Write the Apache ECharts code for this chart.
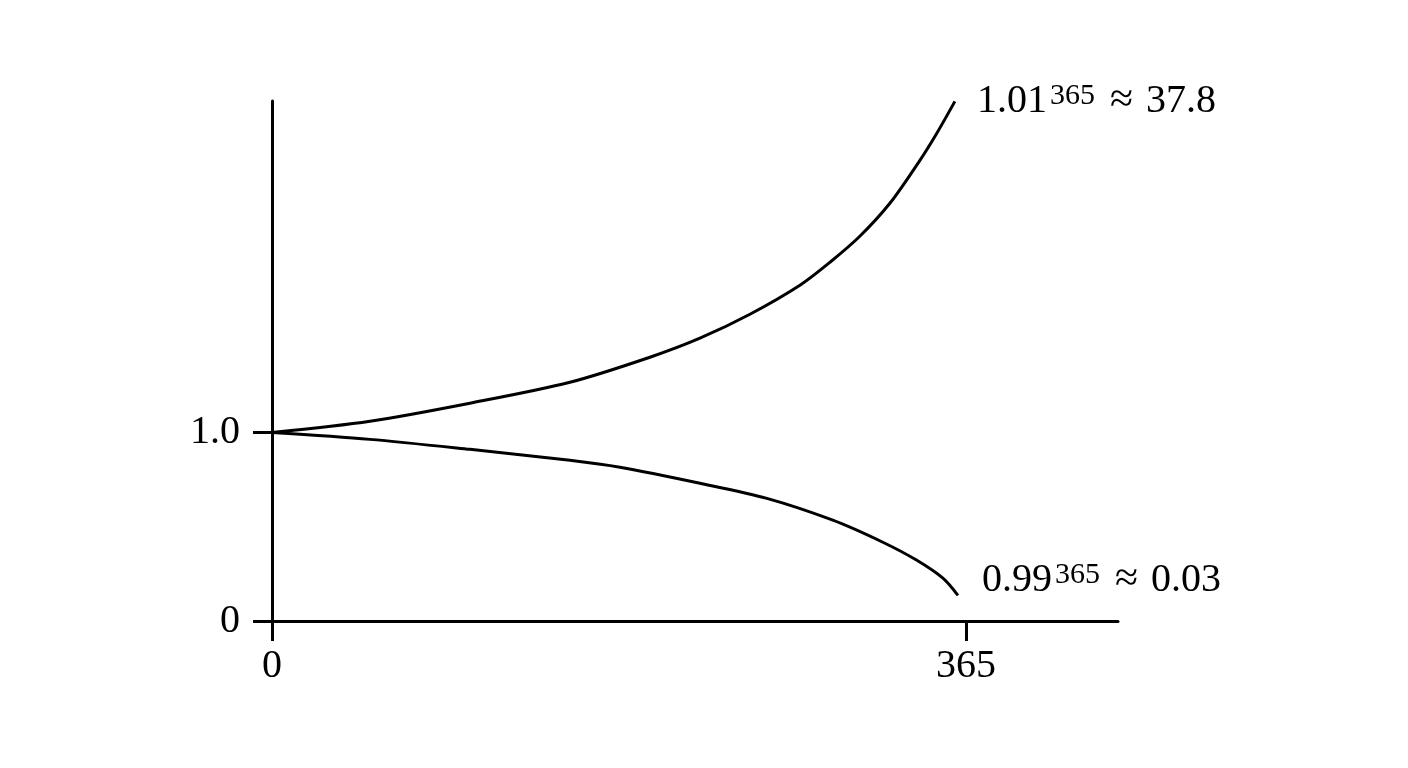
<!DOCTYPE html>
<html>
<head>
<meta charset="utf-8">
<style>html,body{margin:0;padding:0;background:#fff}#c{width:1408px;height:768px}</style>
<script src="https://cdn.jsdelivr.net/npm/echarts@6/dist/echarts.min.js"></script>
</head>
<body>
<div id="c"></div>
<script>
var upDays   = [0, 51.5, 104.1, 156.7, 198.8, 225.1, 251.4, 277.7, 293.5, 309.2, 325.0, 340.8, 349.7, 359.2];
var upVals   = [1.0, 1.060, 1.156, 1.267, 1.400, 1.501, 1.628, 1.782, 1.904, 2.042, 2.217, 2.445, 2.589, 2.758];
var downDays = [0, 51.5, 104.1, 156.7, 183.0, 225.1, 260.3, 295.0, 321.3, 339.2, 352.9, 360.8];
var downVals = [1.0, 0.964, 0.911, 0.853, 0.816, 0.731, 0.651, 0.535, 0.418, 0.322, 0.227, 0.136];
var xTicks = [0, 365];
var yTicks = [0, 1];
var yTickLabels = {0: '0', 1: '1.0'};
var upLabel = ['1.01', '365', '\u2248', '37.8'];
var downLabel = ['0.99', '365', '\u2248', '0.03'];

function pairs(xs, ys) { return xs.map(function (x, i) { return [x, ys[i]]; }); }

var FONT = '"Liberation Serif", "DejaVu Serif", serif';
var INK = '#000';
var rich = {
  a: { fontFamily: FONT, fontSize: 40, lineHeight: 40, color: INK },
  s: { fontFamily: FONT, fontSize: 30, lineHeight: 30, color: INK, verticalAlign: 'top', padding: [0, 0, 0, 3] },
  e: { fontFamily: FONT, fontSize: 42, lineHeight: 40, color: INK, padding: [0, 13, 0, 15] }
};
function fmt(p) { return '{a|' + p[0] + '}{s|' + p[1] + '}{e|' + p[2] + '}{a|' + p[3] + '}'; }

var chart = echarts.init(document.getElementById('c'), null, { renderer: 'canvas' });
chart.setOption({
  animation: false,
  backgroundColor: '#fff',
  grid: { left: 272, right: 290, top: 101, bottom: 147 },
  xAxis: {
    type: 'value', min: 0, max: 445,
    axisLine: { show: true, onZero: false, lineStyle: { color: INK, width: 3 } },
    axisTick: { show: true, length: 20, customValues: xTicks, lineStyle: { color: INK, width: 3 } },
    axisLabel: { customValues: xTicks, margin: 25, color: INK, fontFamily: FONT, fontSize: 40 },
    splitLine: { show: false }
  },
  yAxis: {
    type: 'value', min: 0, max: 2.76,
    axisLine: { show: true, onZero: false, lineStyle: { color: INK, width: 3 } },
    axisTick: { show: true, length: 19, customValues: yTicks, lineStyle: { color: INK, width: 3 } },
    axisLabel: { customValues: yTicks, margin: 32, color: INK, fontFamily: FONT, fontSize: 40,
      formatter: function (v) { return yTickLabels[v] !== undefined ? yTickLabels[v] : ''; } },
    splitLine: { show: false }
  },
  series: [
    {
      type: 'line', data: pairs(upDays, upVals), smooth: 0.3,
      showSymbol: false, symbol: 'none',
      lineStyle: { color: INK, width: 3 },
      endLabel: { show: true, distance: 22, offset: [0, 0], formatter: fmt(upLabel), rich: rich }
    },
    {
      type: 'line', data: pairs(downDays, downVals), smooth: 0.3,
      showSymbol: false, symbol: 'none',
      lineStyle: { color: INK, width: 3 },
      endLabel: { show: true, distance: 24, offset: [0, -15], formatter: fmt(downLabel), rich: rich }
    }
  ]
});
</script>
</body>
</html>
